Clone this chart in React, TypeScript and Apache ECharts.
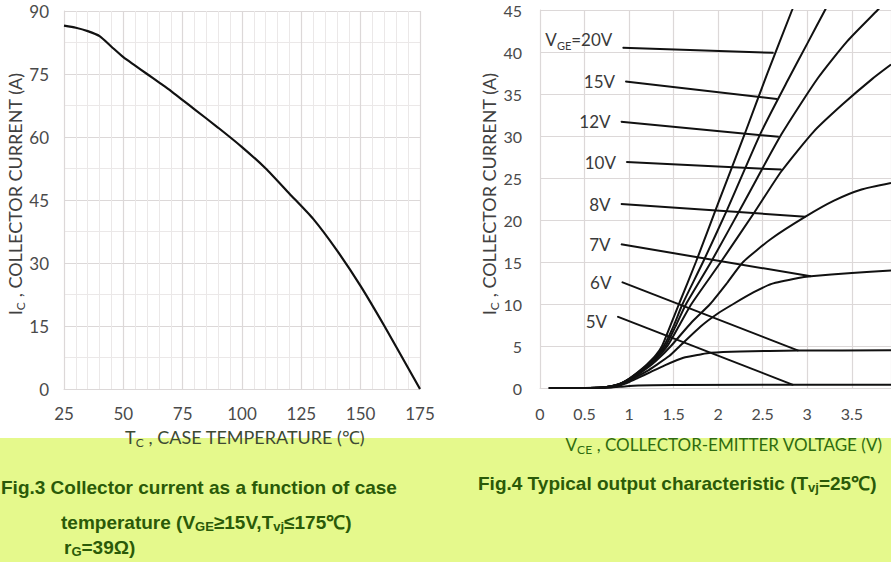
import React, { useEffect, useRef } from "react";
import * as echarts from "echarts";

// Fig.3 : collector current vs case temperature
const TEMP_C = [25, 30, 35, 40, 45, 50, 55, 60, 65, 70, 75, 80, 90, 100, 110, 120, 130, 140, 150, 160, 170, 175];
const IC_MAX = [86.5, 86, 85.2, 84, 81.5, 79, 77, 75, 73, 71, 68.8, 66.6, 62.2, 57.6, 52.5, 46.5, 40.5, 33, 24.5, 15, 5, 0];

// Fig.4 : output characteristics [VCE, IC]
const VGE20 = [[0.1, 0], [0.5, 0], [0.7, 0.05], [0.8, 0.2], [0.9, 0.5], [1.0, 1.1], [1.1, 1.9], [1.2, 2.8], [1.3, 3.9], [1.37, 5], [1.47, 7.6], [1.56, 10], [1.75, 15], [2.0, 22], [2.3, 30.3], [2.55, 37.4], [2.83, 45], [2.9, 47]];
const VGE15 = [[0.1, 0], [0.5, 0], [0.7, 0.05], [0.8, 0.2], [0.9, 0.5], [1.0, 1.1], [1.1, 1.85], [1.2, 2.7], [1.3, 3.7], [1.39, 5], [1.5, 7.4], [1.6, 10], [1.83, 15], [2.1, 21.2], [2.48, 30.4], [2.78, 36.6], [3.0, 41], [3.2, 45], [3.3, 47]];
const VGE12 = [[0.1, 0], [0.5, 0], [0.7, 0.05], [0.8, 0.2], [0.9, 0.5], [1.0, 1.05], [1.1, 1.8], [1.2, 2.6], [1.3, 3.6], [1.41, 5], [1.52, 7.3], [1.64, 10], [1.92, 15], [2.3, 22.3], [2.71, 30.2], [3.12, 36.9], [3.45, 41.3], [3.79, 45], [3.9, 46.2]];
const VGE10 = [[0.1, 0], [0.5, 0], [0.7, 0.05], [0.8, 0.2], [0.9, 0.5], [1.0, 1.0], [1.1, 1.7], [1.2, 2.5], [1.3, 3.4], [1.43, 5], [1.55, 7.2], [1.7, 10], [2.03, 15], [2.4, 20.8], [2.71, 25.8], [3.07, 30.5], [3.4, 33.8], [3.73, 36.8], [3.94, 38.5]];
const VGE8 = [[0.1, 0], [0.5, 0], [0.7, 0.05], [0.8, 0.2], [0.9, 0.45], [1.0, 0.95], [1.1, 1.6], [1.2, 2.35], [1.3, 3.2], [1.47, 5], [1.7, 7.8], [1.91, 10], [2.1, 12.5], [2.28, 15], [2.6, 17.8], [2.98, 20.4], [3.3, 22.3], [3.6, 23.6], [3.94, 24.4]];
const VGE7 = [[0.1, 0], [0.5, 0], [0.7, 0.05], [0.8, 0.18], [0.9, 0.4], [1.0, 0.85], [1.1, 1.4], [1.2, 2.0], [1.3, 2.7], [1.45, 3.8], [1.57, 5], [1.8, 7.3], [2.0, 8.9], [2.17, 10], [2.4, 11.4], [2.6, 12.4], [2.9, 13.1], [3.04, 13.3], [3.5, 13.7], [3.94, 14.0]];
const VGE6 = [[0.1, 0], [0.5, 0], [0.7, 0.03], [0.8, 0.1], [0.9, 0.3], [1.0, 0.7], [1.1, 1.2], [1.24, 1.9], [1.4, 2.7], [1.61, 3.6], [1.8, 4.0], [1.91, 4.2], [2.25, 4.35], [2.9, 4.45], [3.94, 4.5]];
const VGE5 = [[0.1, 0], [0.7, 0], [0.9, 0.15], [1.1, 0.3], [1.5, 0.35], [3.94, 0.4]];
const CURVES = [VGE20, VGE15, VGE12, VGE10, VGE8, VGE7, VGE6, VGE5];

// label pointers
const VGE_LABELS = ["{t|V}{s|GE}{t|=20V}", "{t|15V}", "{t|12V}", "{t|10V}", "{t|8V}", "{t|7V}", "{t|6V}", "{t|5V}"];
const PTR_START = [[0.93, 40.5], [0.96, 36.5], [0.91, 31.7], [0.97, 26.9], [0.91, 21.9], [0.91, 17.1], [0.92, 12.6], [0.87, 8.5]];
const PTR_END = [[2.62, 39.9], [2.66, 34.4], [2.68, 29.9], [2.71, 26.0], [2.98, 20.4], [3.04, 13.3], [2.9, 4.45], [2.84, 0.38]];
const LABEL_DY = [-8, 0, 0, 0, 0, 0, 0, 5];

// axis ticks
const LEFT_X = { min: 25, max: 175, step: 25 };
const LEFT_Y = { min: 0, max: 90, step: 15 };
const RIGHT_X = { min: 0, max: 3.94, step: 0.5 };
const RIGHT_Y = { min: 0, max: 45, step: 5 };

const AX_FONT = "Lato, 'Open Sans', sans-serif";
const CAP_FONT = "'Liberation Sans', Arial, sans-serif";
const GRID_C = "#dcd8d8";
const MINOR_C = "#ebe8e8";
const CAP_C = "#2a5a08";

export default function App() {
  const ref = useRef<HTMLDivElement>(null);
  useEffect(() => {
    document.body.style.margin = "0";
    if (!ref.current) return;
    const chart = echarts.init(ref.current, undefined, { renderer: "svg" });

    const axisLabel = (margin: number, size: number) => ({
      color: "#4a4a4a",
      fontFamily: AX_FONT,
      fontSize: size,
      margin,
    });

    const series: any[] = [];
    series.push({
      type: "line",
      xAxisIndex: 0,
      yAxisIndex: 0,
      data: TEMP_C.map((t, i) => [t, IC_MAX[i]]),
      symbol: "none",
      smooth: 0.2,
      lineStyle: { color: "#111", width: 2.2 },
      silent: true,
    });
    CURVES.forEach((c) => {
      series.push({
        type: "line",
        xAxisIndex: 1,
        yAxisIndex: 1,
        data: c,
        symbol: "none",
        smooth: 0.2,
        clip: true,
        lineStyle: { color: "#111", width: 2 },
        silent: true,
      });
    });
    PTR_START.forEach((s, i) => {
      series.push({
        type: "line",
        xAxisIndex: 1,
        yAxisIndex: 1,
        symbol: "circle",
        symbolSize: 1,
        itemStyle: { color: "#111" },
        lineStyle: { color: "#111", width: 2 },
        silent: true,
        data: [
          {
            value: s,
            label: {
              show: true,
              position: "left",
              distance: 10,
              offset: [0, LABEL_DY[i]],
              formatter: VGE_LABELS[i],
              rich: {
                t: { fontFamily: AX_FONT, fontSize: 17, color: "#3a3a3a", lineHeight: 22, verticalAlign: "middle" },
                s: { fontFamily: AX_FONT, fontSize: 11, color: "#3a3a3a", lineHeight: 22, verticalAlign: "bottom", padding: [7, 0, 0, 0] },
              },
            },
          },
          { value: PTR_END[i], label: { show: false } },
        ],
      });
    });

    const main = { fontFamily: AX_FONT, fontSize: 18, fill: "#404040", lineHeight: 22, verticalAlign: "middle" };
    const sub = { fontFamily: AX_FONT, fontSize: 12, fill: "#404040", lineHeight: 22, verticalAlign: "bottom", padding: [8, 0, 0, 0] };
    const capB = { fontFamily: CAP_FONT, fontWeight: "bold", fontSize: 19, fill: CAP_C, lineHeight: 22, verticalAlign: "middle" };
    const capS = { fontFamily: CAP_FONT, fontWeight: "bold", fontSize: 13, fill: CAP_C, lineHeight: 22, verticalAlign: "bottom", padding: [7, 0, 0, 0] };
    const greenMain = { ...main, fill: "#2e6b10", fontSize: 17 };
    const greenSub = { ...sub, fill: "#2e6b10" };

    chart.setOption({
      animation: false,
      backgroundColor: "#ffffff",
      grid: [
        { left: 64, top: 11, width: 356, height: 378 },
        { left: 540, top: 10, width: 351, height: 378 },
      ],
      xAxis: [
        {
          gridIndex: 0,
          type: "value",
          min: LEFT_X.min,
          max: LEFT_X.max,
          interval: LEFT_X.step,
          axisLine: { show: true, lineStyle: { color: GRID_C } },
          axisTick: { show: false },
          axisLabel: axisLabel(16, 17),
          splitLine: { show: true, lineStyle: { color: GRID_C, width: 1.2 } },
          minorTick: { show: false, splitNumber: 5 },
          minorSplitLine: { show: true, lineStyle: { color: MINOR_C } },
        },
        {
          gridIndex: 1,
          type: "value",
          min: RIGHT_X.min,
          max: RIGHT_X.max,
          interval: RIGHT_X.step,
          axisLine: { show: true, lineStyle: { color: GRID_C } },
          axisTick: { show: false },
          axisLabel: { ...axisLabel(17, 16), showMaxLabel: false },
          splitLine: { show: true, lineStyle: { color: GRID_C, width: 1.2 } },
        },
      ],
      yAxis: [
        {
          gridIndex: 0,
          type: "value",
          min: LEFT_Y.min,
          max: LEFT_Y.max,
          interval: LEFT_Y.step,
          axisLine: { show: true, lineStyle: { color: GRID_C } },
          axisTick: { show: false },
          axisLabel: axisLabel(15, 17),
          splitLine: { show: true, lineStyle: { color: GRID_C, width: 1.2 } },
          minorTick: { show: false, splitNumber: 2 },
          minorSplitLine: { show: true, lineStyle: { color: MINOR_C } },
        },
        {
          gridIndex: 1,
          type: "value",
          min: RIGHT_Y.min,
          max: RIGHT_Y.max,
          interval: RIGHT_Y.step,
          axisLine: { show: true, lineStyle: { color: GRID_C } },
          axisTick: { show: false },
          axisLabel: axisLabel(18, 16),
          splitLine: { show: true, lineStyle: { color: GRID_C, width: 1.2 } },
        },
      ],
      series,
      graphic: [
        { type: "rect", silent: true, shape: { x: 0, y: 438, width: 891, height: 124 }, style: { fill: "#e5f98c" } },
        {
          type: "text",
          x: 15,
          y: 194,
          rotation: Math.PI / 2,
          style: { text: "{m|I}{s|C}{m| , COLLECTOR CURRENT (A)}", rich: { m: main, s: sub }, align: "center", verticalAlign: "middle" },
        },
        {
          type: "text",
          x: 489,
          y: 194,
          rotation: Math.PI / 2,
          style: { text: "{m|I}{s|C}{m| , COLLECTOR CURRENT (A)}", rich: { m: main, s: sub }, align: "center", verticalAlign: "middle" },
        },
        {
          type: "text",
          x: 245,
          y: 437,
          style: { text: "{m|T}{s|C}{m| , CASE TEMPERATURE (℃)}", rich: { m: { ...main, fill: "#3d4a33" }, s: { ...sub, fill: "#3d4a33" } }, align: "center", verticalAlign: "middle" },
        },
        {
          type: "text",
          x: 724,
          y: 444,
          style: { text: "{m|V}{s|CE}{m| , COLLECTOR-EMITTER VOLTAGE (V)}", rich: { m: greenMain, s: greenSub }, align: "center", verticalAlign: "middle" },
        },
        {
          type: "text",
          x: 1,
          y: 487,
          style: { text: "{b|Fig.3 Collector current as a function of case}", rich: { b: capB }, verticalAlign: "middle" },
        },
        {
          type: "text",
          x: 61,
          y: 522,
          style: { text: "{b|temperature (V}{s|GE}{b|≥15V,T}{s|vj}{b|≤175℃)}", rich: { b: capB, s: capS }, verticalAlign: "middle" },
        },
        {
          type: "text",
          x: 64,
          y: 547,
          style: { text: "{b|r}{s|G}{b|=39Ω)}", rich: { b: capB, s: capS }, verticalAlign: "middle" },
        },
        {
          type: "text",
          x: 478,
          y: 483,
          style: { text: "{b|Fig.4 Typical output characteristic (T}{s|vj}{b|=25℃)}", rich: { b: capB, s: capS }, verticalAlign: "middle" },
        },
      ],
    });
    return () => chart.dispose();
  }, []);
  return <div ref={ref} style={{ width: 891, height: 562 }} />;
}
